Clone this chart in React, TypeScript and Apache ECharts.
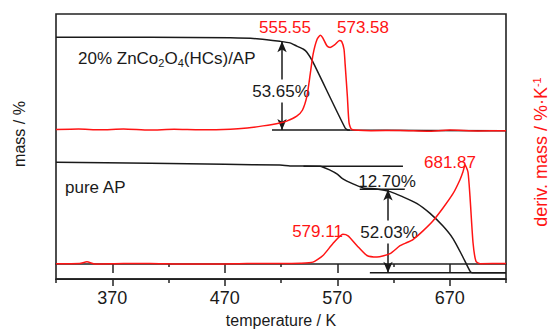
import React, { useEffect, useRef } from 'react';
import * as echarts from 'echarts';

// temperature axis (K)
const X_MIN = 320;
const X_MAX = 720;
const majorTicks = [370, 470, 570, 670];
const minorTicks = [320, 420, 520, 620, 720];
const innerMinorTicks = [420, 520, 620];

// Stacked curves, vertical values in offset plot units (0..100)
// 20% ZnCo2O4(HCs)/AP : mass (TG)
const compositeMass: [number, number][] = [
  [320, 91.2], [404, 91.2], [475, 91.0], [501, 90.6], [519, 89.7], [528, 89.1],
  [534, 87.9], [540, 86.7], [543, 85.6], [548, 82.2], [577, 57.0], [580, 56.2], [720, 56.0],
];
// 20% ZnCo2O4(HCs)/AP : deriv. mass (DTG)
const compositeDeriv: [number, number][] = [
  [320, 56.4], [340, 56.6], [359, 56.3], [380, 56.6], [403, 56.2], [425, 56.5], [448, 56.3],
  [475, 56.5], [490, 57.0], [504, 57.8], [519, 58.9], [525, 59.6], [534, 61.5], [539, 63.7],
  [543, 68.9], [546, 77.4], [548.5, 84.8], [552, 90.4], [555, 92.0], [557, 91.1], [561, 87.9],
  [563.6, 87.4], [568, 88.5], [572, 90.0], [574, 89.6], [576, 86.7], [577, 81.1], [579, 68.9],
  [580.5, 58.9], [583, 56.4], [600, 56.0], [626, 56.1], [650, 55.8], [670, 56.2], [695, 55.9], [720, 56.0],
];
// pure AP : mass (TG)
const pureMass: [number, number][] = [
  [320, 44.1], [404, 43.7], [470, 43.3], [519, 43.0], [528, 42.7], [554.7, 42.6], [563.6, 41.1],
  [570, 39.6], [575, 37.8], [584, 35.9], [593, 34.4], [605, 34.0], [617, 33.0], [628, 31.1],
  [641, 28.5], [652.5, 24.8], [664, 20.0], [673, 15.2], [681, 8.9], [688, 3.0], [690, 2.4], [720, 2.4],
];
// pure AP : deriv. mass (DTG)
const pureDeriv: [number, number][] = [
  [320, 5.8], [341, 5.9], [347.5, 6.5], [354.7, 5.7], [380, 5.9], [403.6, 5.9], [430, 5.7],
  [465.8, 5.7], [490, 5.9], [519, 5.9], [537, 6.0], [548.4, 6.4], [557.3, 8.9], [566, 13.3],
  [575, 16.9], [579.6, 16.3], [587.6, 12.6], [596.4, 8.9], [605.3, 8.3], [617, 9.6], [625.8, 12.6],
  [632, 13.8], [637, 14.8], [646, 18.1], [655, 21.9], [664, 26.8], [673, 32.3], [679, 37.4],
  [681.7, 40.4], [683.6, 43.0], [686.2, 40.4], [688, 31.1], [690.7, 13.7], [693.3, 6.7],
  [697, 5.8], [720, 5.9],
];

// reference (step) lines: [x1, x2, y]
const refLines: [number, number, number][] = [
  [512, 581.3, 56.2],
  [540, 628.4, 42.6],
  [590, 630, 33.9],
  [599, 720, 2.4],
];
// double arrows: [x, yTop, yBottom]
const arrows: [number, number, number][] = [
  [520.9, 89.7, 56.2],
  [615.1, 33.8, 2.4],
];

const peakLabels = ['555.55', '573.58', '579.11', '681.87'];
const lossLabels = ['53.65%', '12.70%', '52.03%'];

const FONT = '"Liberation Sans", Arial, Helvetica, sans-serif';
const BLACK = '#1a1a1a';
const RED = '#ff1414';

export default function App() {
  const ref = useRef<HTMLDivElement>(null);
  useEffect(() => {
    if (!ref.current) return;
    const chart = echarts.init(ref.current, null, { renderer: 'svg' });
    const baseX: any = {
      type: 'value', min: X_MIN, max: X_MAX, gridIndex: 0, position: 'bottom',
      splitLine: { show: false },
    };
    const axLine = { color: '#222', width: 1.5 };
    const curve = (name: string, data: [number, number][], color: string, yAxisIndex: number, z: number) => ({
      type: 'line', name, data, xAxisIndex: 0, yAxisIndex, symbol: 'none', showSymbol: false,
      smooth: 0.2, lineStyle: { color, width: 1.5 }, z, silent: true,
    });
    const series: any[] = [
      curve('20% ZnCo2O4(HCs)/AP mass', compositeMass, BLACK, 0, 3),
      curve('pure AP mass', pureMass, BLACK, 0, 3),
      curve('20% ZnCo2O4(HCs)/AP deriv', compositeDeriv, RED, 1, 4),
      curve('pure AP deriv', pureDeriv, RED, 1, 4),
    ];
    refLines.forEach(([x1, x2, y], i) => {
      series.push({
        type: 'line', name: 'ref' + i, data: [[x1, y], [x2, y]], symbol: 'none', silent: true,
        xAxisIndex: 0, yAxisIndex: 0, lineStyle: { color: BLACK, width: 1.5 }, z: 3,
      });
    });
    arrows.forEach(([x, y1, y2], i) => {
      series.push({
        type: 'line', name: 'arrow' + i, data: [[x, y1], [x, y2]], symbol: 'none', silent: true,
        xAxisIndex: 0, yAxisIndex: 0, lineStyle: { opacity: 0 }, z: 1,
        markLine: {
          silent: true, z: 1, symbol: ['arrow', 'arrow'], symbolSize: [7, 11], animation: false,
          label: { show: false },
          lineStyle: { color: BLACK, width: 1.5, type: 'solid' },
          emphasis: { disabled: true },
          data: [[{ coord: [x, y1] }, { coord: [x, y2] }]],
        },
      });
    });

    const txt = (text: string, x: number, y: number, color: string, extra: any = {}, z = 10) => ({
      type: 'text', x, y, z, silent: true,
      style: { text, fill: color, fontSize: 17, fontFamily: FONT, align: 'center', verticalAlign: 'middle', ...extra },
    });

    const option: any = {
      animation: false,
      grid: { left: 56, right: 49, top: 14, bottom: 49, show: true, borderColor: '#222', borderWidth: 1.6, backgroundColor: 'transparent' },
      xAxis: [
        {
          ...baseX, name: 'temperature / K', nameLocation: 'middle', nameGap: 31,
          nameTextStyle: { fontFamily: FONT, fontSize: 16, color: BLACK },
          axisLine: { show: true, lineStyle: axLine },
          axisTick: { show: true, customValues: majorTicks, length: 7, lineStyle: axLine },
          axisLabel: { show: true, customValues: majorTicks, margin: 10, fontFamily: FONT, fontSize: 18, color: BLACK },
        },
        {
          ...baseX, axisLine: { show: false },
          axisTick: { show: true, customValues: minorTicks, length: 4, lineStyle: axLine },
          axisLabel: { show: false },
        },
        {
          ...baseX, offset: -15, axisLine: { show: true, lineStyle: axLine },
          axisTick: { show: true, customValues: majorTicks, length: 9, lineStyle: axLine },
          axisLabel: { show: false },
        },
        {
          ...baseX, offset: -15, axisLine: { show: false },
          axisTick: { show: true, customValues: innerMinorTicks, length: 3, lineStyle: axLine },
          axisLabel: { show: false },
        },
      ],
      yAxis: [
        { type: 'value', min: 0, max: 100, position: 'left', axisLine: { show: false }, axisTick: { show: false }, axisLabel: { show: false }, splitLine: { show: false } },
        { type: 'value', min: 0, max: 100, position: 'right', axisLine: { show: false }, axisTick: { show: false }, axisLabel: { show: false }, splitLine: { show: false } },
      ],
      series,
      graphic: [
        txt(peakLabels[0], 285, 27, RED),
        txt(peakLabels[1], 363, 27, RED),
        txt(peakLabels[2], 317.5, 231, RED),
        txt(peakLabels[3], 450, 162, RED),
        txt(lossLabels[0], 281, 91, BLACK, { backgroundColor: '#fff', padding: [3, 0] }, 2),
        txt(lossLabels[1], 387, 181.5, BLACK),
        txt(lossLabels[2], 389, 232, BLACK, { backgroundColor: '#fff', padding: [3, 0] }, 2),
        txt('pure AP', 65, 187, BLACK, { align: 'left' }),
        {
          type: 'text', x: 78, y: 58, z: 10, silent: true,
          style: {
            text: '20% ZnCo{sub|2}O{sub|4}(HCs)/AP', fill: BLACK, fontSize: 17, lineHeight: 20,
            fontFamily: FONT, align: 'left', verticalAlign: 'middle',
            rich: { sub: { fontSize: 11, lineHeight: 11, verticalAlign: 'bottom', fontFamily: FONT, fill: BLACK } },
          },
        },
        {
          type: 'text', x: 19, y: 134, rotation: Math.PI / 2, z: 10, silent: true,
          style: { text: 'mass / %', fill: BLACK, fontSize: 16, fontFamily: FONT, align: 'center', verticalAlign: 'middle' },
        },
        {
          type: 'text', x: 541, y: 152, rotation: Math.PI / 2, z: 10, silent: true,
          style: {
            text: 'deriv. mass / %·K{sup|-1}', fill: RED, fontSize: 18, lineHeight: 20,
            fontFamily: FONT, align: 'center', verticalAlign: 'middle',
            rich: { sup: { fontSize: 11, lineHeight: 11, verticalAlign: 'top', fontFamily: FONT, fill: RED } },
          },
        },
      ],
    };
    chart.setOption(option);
    return () => chart.dispose();
  }, []);
  return <div ref={ref} style={{ position: 'fixed', left: 0, top: 0, width: 555, height: 333, background: '#fff' }} />;
}
